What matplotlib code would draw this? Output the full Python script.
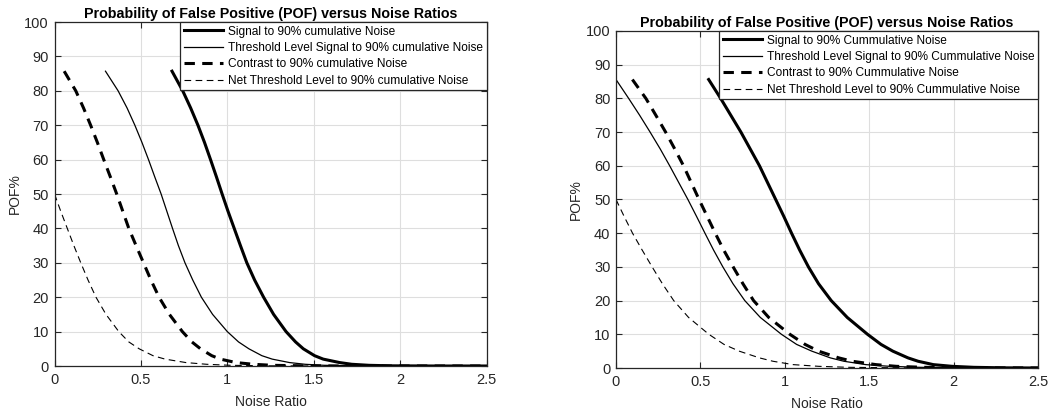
import matplotlib
matplotlib.use("Agg")
import matplotlib.pyplot as plt

plt.rcParams['font.family'] = ['Liberation Sans', 'DejaVu Sans']

title = "Probability of False Positive (POF) versus Noise Ratios"
xlabel = "Noise Ratio"
ylabel = "POF%"
xticks = [0, 0.5, 1, 1.5, 2, 2.5]
xtick_labels = ["0", "0.5", "1", "1.5", "2", "2.5"]
yticks = [0, 10, 20, 30, 40, 50, 60, 70, 80, 90, 100]

# ---- left panel ----
left_labels = ["Signal to 90% cumulative Noise",
               "Threshold Level Signal to 90% cumulative Noise",
               "Contrast to 90% cumulative Noise",
               "Net Threshold Level to 90% cumulative Noise"]
sig_L_x = [0.68, 0.742, 0.788, 0.830, 0.868, 0.903, 0.937, 0.970, 1.004, 1.040, 1.076, 1.113,
           1.158, 1.210, 1.268, 1.340, 1.395, 1.44, 1.505, 1.555, 1.65, 1.72, 1.82, 1.95, 2.2, 2.5]
sig_L_y = [85.7, 80, 75, 70, 65, 60, 55, 50, 45, 40, 35, 30,
           25, 20, 15, 10, 7, 5, 3, 2, 1, 0.5, 0.2, 0.05, 0.0, 0.0]
thr_L_x = [0.295, 0.368, 0.420, 0.465, 0.506, 0.544, 0.580, 0.617, 0.650, 0.683, 0.717, 0.755,
           0.800, 0.850, 0.915, 1.0, 1.065, 1.125, 1.20, 1.26, 1.36, 1.45, 1.56, 1.75, 2.0, 2.5]
thr_L_y = [85.7, 80, 75, 70, 65, 60, 55, 50, 45, 40, 35, 30,
           25, 20, 15, 10, 7, 5, 3, 2, 1, 0.5, 0.2, 0.05, 0.0, 0.0]
con_L_x = [0.056, 0.123, 0.168, 0.209, 0.248, 0.285, 0.323, 0.360, 0.395, 0.430, 0.472, 0.515,
           0.558, 0.605, 0.665, 0.740, 0.795, 0.845, 0.91, 0.96, 1.05, 1.15, 1.26, 1.45, 1.7, 2.5]
con_L_y = [85.7, 80, 75, 70, 65, 60, 55, 50, 45, 40, 35, 30,
           25, 20, 15, 10, 7, 5, 3, 2, 1, 0.5, 0.2, 0.05, 0.0, 0.0]
net_L_x = [0.0, 0.036, 0.074, 0.112, 0.152, 0.194, 0.240, 0.298, 0.372, 0.43, 0.49, 0.57,
           0.64, 0.76, 0.88, 1.02, 1.25, 1.6, 2.5]
net_L_y = [50, 45, 40, 35, 30, 25, 20, 15, 10, 7, 5, 3,
           2, 1, 0.5, 0.2, 0.05, 0.0, 0.0]

# ---- right panel ----
right_labels = ["Signal to 90% Cummulative Noise",
                "Threshold Level Signal to 90% Cummulative Noise",
                "Contrast to 90% Cummulative Noise",
                "Net Threshold Level to 90% Cummulative Noise"]
sig_R_x = [0.549, 0.620, 0.680, 0.740, 0.795, 0.850, 0.898, 0.946, 0.994, 1.040, 1.088, 1.140,
           1.200, 1.275, 1.370, 1.490, 1.570, 1.640, 1.730, 1.790, 1.880, 1.99, 2.12, 2.3, 2.5]
sig_R_y = [85.6, 80, 75, 70, 65, 60, 55, 50, 45, 40, 35, 30,
           25, 20, 15, 10, 7, 5, 3, 2, 1, 0.5, 0.2, 0.05, 0.0]
thr_R_x = [0.0, 0.075, 0.140, 0.202, 0.262, 0.318, 0.372, 0.426, 0.477, 0.527, 0.578, 0.633,
           0.693, 0.763, 0.855, 0.980, 1.07, 1.16, 1.27, 1.35, 1.48, 1.62, 1.80, 2.1, 2.5]
thr_R_y = [85.6, 80, 75, 70, 65, 60, 55, 50, 45, 40, 35, 30,
           25, 20, 15, 10, 7, 5, 3, 2, 1, 0.5, 0.2, 0.05, 0.0]
con_R_x = [0.097, 0.177, 0.236, 0.294, 0.348, 0.400, 0.446, 0.492, 0.540, 0.588, 0.638, 0.694,
           0.752, 0.815, 0.905, 1.030, 1.12, 1.20, 1.32, 1.40, 1.54, 1.66, 1.82, 2.05, 2.5]
con_R_y = [85.6, 80, 75, 70, 65, 60, 55, 50, 45, 40, 35, 30,
           25, 20, 15, 10, 7, 5, 3, 2, 1, 0.5, 0.2, 0.05, 0.0]
net_R_x = [0.0, 0.048, 0.098, 0.155, 0.214, 0.275, 0.342, 0.430, 0.550, 0.64, 0.73, 0.85,
           0.93, 1.05, 1.2, 1.38, 1.7, 2.5]
net_R_y = [50, 45, 40, 35, 30, 25, 20, 15, 10, 7, 5, 3,
           2, 1, 0.5, 0.2, 0.05, 0.0]

fig = plt.figure(figsize=(10.56, 4.11), dpi=100)
axL = fig.add_axes([54.5 / 1056, 45 / 411, 432 / 1056, 344 / 411])
axR = fig.add_axes([616 / 1056, 43 / 411, 422 / 1056, 337 / 411])

dark = '#262626'


def draw(ax, series, labels):
    styles = [dict(color='k', lw=2.2, ls='-'),
              dict(color='k', lw=0.9, ls='-'),
              dict(color='k', lw=2.2, ls=(0, (3.4, 2.4))),
              dict(color='k', lw=0.8, ls=(0, (6, 4)))]
    for (xs, ys), st, lab in zip(series, styles, labels):
        ax.plot(xs, ys, label=lab, solid_joinstyle='round', **st)
    ax.set_xlim(0, 2.5)
    ax.set_ylim(0, 100)
    ax.set_xticks(xticks)
    ax.set_xticklabels(xtick_labels)
    ax.set_yticks(yticks)
    ax.grid(True, color='#dedede', lw=0.8)
    ax.set_axisbelow(True)
    ax.tick_params(direction='in', length=4, width=0.8, colors=dark,
                   labelsize=10.5, top=True, right=True)
    ax.tick_params(axis='x', pad=5)
    ax.tick_params(axis='y', pad=4)
    for s in ax.spines.values():
        s.set_color(dark)
        s.set_linewidth(0.9)
    ax.set_title(title, fontsize=10.3, fontweight='bold', pad=3)
    ax.set_xlabel(xlabel, fontsize=10, color=dark, labelpad=6)
    ax.set_ylabel(ylabel, fontsize=10, color=dark, labelpad=2)
    leg = ax.legend(loc='upper right', borderaxespad=0, fontsize=8.55,
                    frameon=True, fancybox=False, framealpha=1,
                    edgecolor=dark, handlelength=3.3, handletextpad=0.4,
                    labelspacing=0.37, borderpad=0.3)
    leg.get_frame().set_linewidth(0.9)


draw(axL, [(sig_L_x, sig_L_y), (thr_L_x, thr_L_y), (con_L_x, con_L_y), (net_L_x, net_L_y)], left_labels)
draw(axR, [(sig_R_x, sig_R_y), (thr_R_x, thr_R_y), (con_R_x, con_R_y), (net_R_x, net_R_y)], right_labels)

fig.savefig("out.png", dpi=100)
